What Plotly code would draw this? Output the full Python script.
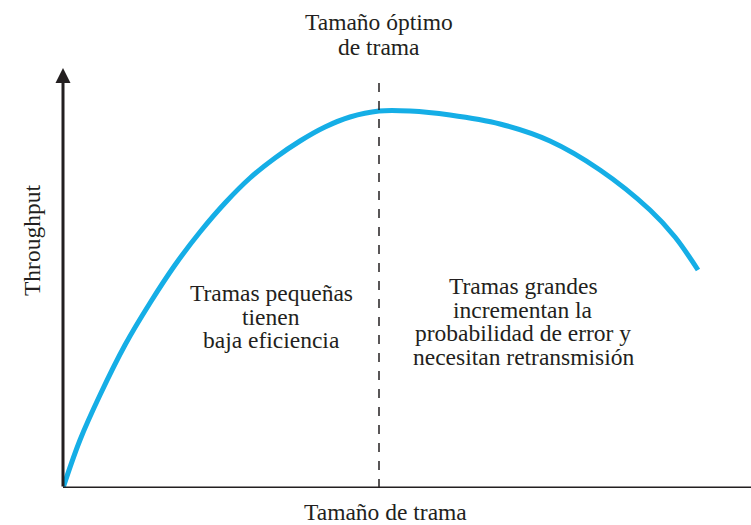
import plotly.graph_objects as go

# Curve samples (frame size vs throughput, in plot units)
frame_size = [0, 17, 37, 62, 87, 112, 137, 162, 187, 212, 237, 262, 287, 316,
              347, 387, 437, 487, 537, 587, 612, 635]
throughput = [0, 48, 93, 143, 185, 223, 256, 285, 310, 330, 347, 361, 371, 377,
              377, 373, 364, 347, 318, 278, 251, 218]
optimum_x = 316

top_lines = ['Tamaño óptimo', 'de trama']
left_lines = ['Tramas pequeñas', 'tienen', 'baja eficiencia']
right_lines = ['Tramas grandes', 'incrementan la', 'probabilidad de error y', 'necesitan retransmisión']
x_title = 'Tamaño de trama'
y_title = 'Throughput'

font = dict(family='Liberation Serif, Times New Roman, serif', size=23.5, color='#231f20')

fig = go.Figure()
fig.add_trace(go.Scatter(x=frame_size, y=throughput, mode='lines',
                         line=dict(color='#15aee6', width=5, shape='spline', smoothing=1.0),
                         hoverinfo='skip', showlegend=False))

# axes
fig.add_shape(type='line', x0=0, y0=0, x1=700, y1=0, line=dict(color='#231f20', width=3))
fig.add_annotation(x=0, y=420, ax=0, ay=0, xref='x', yref='y', axref='x', ayref='y',
                   text='', showarrow=True, arrowhead=2, arrowsize=1, arrowwidth=3,
                   arrowcolor='#231f20')
# optimum line
fig.add_shape(type='line', x0=optimum_x, y0=0, x1=optimum_x, y1=411,
              line=dict(color='#231f20', width=1.5, dash='dash'))

def add_block(lines, x, y_top, step):
    for i, t in enumerate(lines):
        fig.add_annotation(x=x, y=y_top - i * step, text=t, showarrow=False, font=font)

add_block(top_lines, optimum_x, 466, 25)
add_block(left_lines, 208, 195, 23.5)
add_block(right_lines, 460, 202, 23.5)

# axis titles (outside the plot area -> paper coordinates)
fig.add_annotation(x=322 / 688, y=-24 / 488, xref='paper', yref='paper', text=x_title,
                   xanchor='center', yanchor='middle', showarrow=False, font=font)
fig.add_annotation(x=-31 / 688, y=247 / 488, xref='paper', yref='paper', text=y_title,
                   xanchor='center', yanchor='middle', showarrow=False, font=font, textangle=-90)

fig.update_layout(width=751, height=525, margin=dict(l=63, r=0, t=0, b=37),
                  plot_bgcolor='white', paper_bgcolor='white',
                  xaxis=dict(range=[0, 688], visible=False, fixedrange=True),
                  yaxis=dict(range=[0, 488], visible=False, fixedrange=True))

fig.write_html('out.html', config={'displayModeBar': False},
               post_script="document.body.style.margin='0';")
